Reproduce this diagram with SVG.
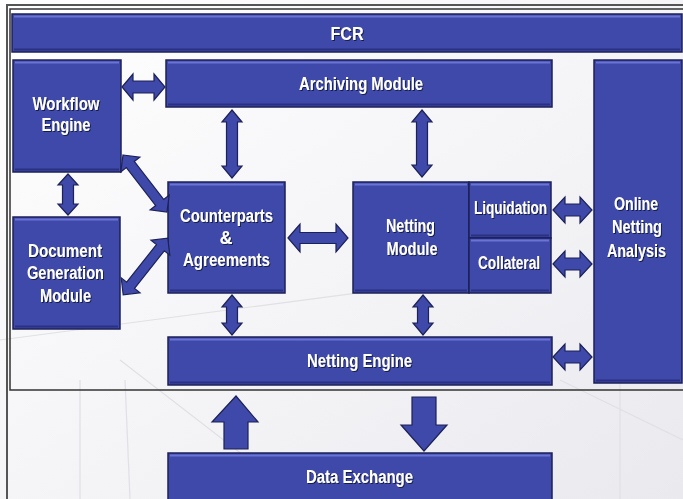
<svg xmlns="http://www.w3.org/2000/svg" width="683" height="499" viewBox="0 0 683 499">
<defs>
<linearGradient id="bg" x1="0" y1="0" x2="1" y2="1">
<stop offset="0" stop-color="#ffffff"/>
<stop offset="0.6" stop-color="#f3f3f6"/>
<stop offset="1" stop-color="#e9e9ee"/>
</linearGradient>
<filter id="sh" x="-10%" y="-20%" width="120%" height="140%">
<feDropShadow dx="1" dy="1" stdDeviation="0.6" flood-color="#10143a" flood-opacity="0.9"/>
</filter>
<style>
.box{fill:#3f49a9;stroke:#1c2157;stroke-width:1.5}
.hl{fill:none;stroke:#6b74d6;stroke-width:2}
.dk{fill:none;stroke:#2a3183;stroke-width:2}
.arr{fill:#3f49a9;stroke:#1c2157;stroke-width:1.2;stroke-linejoin:miter}
.t{font-family:"Liberation Sans Narrow","Liberation Sans",Arial,sans-serif;font-weight:bold;font-size:18px;fill:#ffffff;text-anchor:middle;filter:url(#sh)}
.bgl{stroke:#e0e0e5;stroke-width:1.2;fill:none}
</style>
</defs>
<rect x="0" y="0" width="683" height="499" fill="url(#bg)"/>
<g id="background-lines">
<path class="bgl" d="M0 340 L683 250"/>
<path class="bgl" d="M80 380 L80 499"/>
<path class="bgl" d="M125 380 L130 499"/>
<path class="bgl" d="M120 360 L300 499"/>
<path class="bgl" d="M560 380 L683 440"/>
<path class="bgl" d="M620 380 L620 499"/>
</g>
<g id="frame">
<path d="M7 499 L7 5 L683 5" fill="none" stroke="#555" stroke-width="2"/>
<path d="M683 9 L10 9 L10 390 L683 390" fill="none" stroke="#333" stroke-width="1.5"/>
</g>

<g id="fcr">
<rect class="box" x="12" y="14" width="670" height="38"/>
<path class="hl" d="M14 16.5 L680 16.5"/>
<path class="dk" d="M14 49.5 L680 49.5"/>
<text class="t" x="347" y="40" font-size="20" textLength="33" lengthAdjust="spacingAndGlyphs">FCR</text>
</g>

<g id="workflow-engine">
<rect class="box" x="13" y="60" width="108" height="112"/>
<path class="hl" d="M15 62.5 L119 62.5"/>
<path class="dk" d="M15 169.5 L119 169.5"/>
<text class="t" x="66" y="110" textLength="67" lengthAdjust="spacingAndGlyphs">Workflow</text>
<text class="t" x="66" y="131" textLength="49" lengthAdjust="spacingAndGlyphs">Engine</text>
</g>

<g id="archiving-module">
<rect class="box" x="166" y="60" width="386" height="47"/>
<path class="hl" d="M168 62.5 L550 62.5"/>
<path class="dk" d="M168 104.5 L550 104.5"/>
<text class="t" x="361" y="90" textLength="124" lengthAdjust="spacingAndGlyphs">Archiving Module</text>
</g>

<g id="online-netting-analysis">
<rect class="box" x="594" y="60" width="88" height="323"/>
<path class="hl" d="M596 62.5 L680 62.5"/>
<path class="dk" d="M596 380.5 L680 380.5"/>
<text class="t" x="636" y="210" textLength="44" lengthAdjust="spacingAndGlyphs">Online</text>
<text class="t" x="637" y="233" textLength="50" lengthAdjust="spacingAndGlyphs">Netting</text>
<text class="t" x="636.5" y="257" textLength="59" lengthAdjust="spacingAndGlyphs">Analysis</text>
</g>

<g id="document-generation-module">
<rect class="box" x="13" y="217" width="107" height="112"/>
<path class="hl" d="M15 219.5 L118 219.5"/>
<path class="dk" d="M15 326.5 L118 326.5"/>
<text class="t" x="65" y="257" textLength="74" lengthAdjust="spacingAndGlyphs">Document</text>
<text class="t" x="65.5" y="279" textLength="77" lengthAdjust="spacingAndGlyphs">Generation</text>
<text class="t" x="65.5" y="302" textLength="51" lengthAdjust="spacingAndGlyphs">Module</text>
</g>

<g id="counterparts-agreements">
<rect class="box" x="168" y="182" width="117" height="111"/>
<path class="hl" d="M170 184.5 L283 184.5"/>
<path class="dk" d="M170 290.5 L283 290.5"/>
<text class="t" x="226.5" y="222" textLength="93" lengthAdjust="spacingAndGlyphs">Counterparts</text>
<text class="t" x="226" y="244">&amp;</text>
<text class="t" x="226.5" y="266" textLength="87" lengthAdjust="spacingAndGlyphs">Agreements</text>
</g>

<g id="netting-module">
<rect class="box" x="353" y="182" width="116" height="111"/>
<path class="hl" d="M355 184.5 L467 184.5"/>
<path class="dk" d="M355 290.5 L467 290.5"/>
<text class="t" x="410.5" y="232" textLength="49" lengthAdjust="spacingAndGlyphs">Netting</text>
<text class="t" x="412" y="255" textLength="51" lengthAdjust="spacingAndGlyphs">Module</text>
</g>

<g id="liquidation">
<rect class="box" x="469" y="182" width="82" height="56"/>
<path class="hl" d="M471 184.5 L549 184.5"/>
<path class="dk" d="M471 235.5 L549 235.5"/>
<text class="t" x="510.5" y="214" textLength="73" lengthAdjust="spacingAndGlyphs">Liquidation</text>
</g>

<g id="collateral">
<rect class="box" x="469" y="238" width="82" height="55"/>
<path class="hl" d="M471 240.5 L549 240.5"/>
<path class="dk" d="M471 290.5 L549 290.5"/>
<text class="t" x="509" y="269" textLength="62" lengthAdjust="spacingAndGlyphs">Collateral</text>
</g>

<g id="netting-engine">
<rect class="box" x="168" y="337" width="384" height="48"/>
<path class="hl" d="M170 339.5 L550 339.5"/>
<path class="dk" d="M170 382.5 L550 382.5"/>
<text class="t" x="359.5" y="367" textLength="105" lengthAdjust="spacingAndGlyphs">Netting Engine</text>
</g>

<g id="data-exchange">
<rect class="box" x="168" y="453" width="384" height="52"/>
<path class="hl" d="M170 455.5 L550 455.5"/>
<text class="t" x="359.5" y="483" textLength="107" lengthAdjust="spacingAndGlyphs">Data Exchange</text>
</g>

<g id="connectors">
<path class="arr" d="M122 87 L133 74 L133 81 L154 81 L154 74 L165 87 L154 100 L154 93 L133 93 L133 100 Z"/>
<path class="arr" d="M288 238 L300 224 L300 232.5 L336 232.5 L336 224 L348 238 L336 252 L336 243.5 L300 243.5 L300 252 Z"/>
<path class="arr" d="M553 210 L565 197 L565 204 L580 204 L580 197 L592 210 L580 223 L580 216 L565 216 L565 223 Z"/>
<path class="arr" d="M553 264 L565 251 L565 258 L580 258 L580 251 L592 264 L580 277 L580 270 L565 270 L565 277 Z"/>
<path class="arr" d="M553 357 L565 344 L565 351 L580 351 L580 344 L592 357 L580 370 L580 363 L565 363 L565 370 Z"/>
<path class="arr" d="M68 174 L78 185 L73.5 185 L73.5 204 L78 204 L68 215 L58 204 L62.5 204 L62.5 185 L58 185 Z"/>
<path class="arr" d="M232 110 L242 122 L237.5 122 L237.5 166 L242 166 L232 178 L222 166 L226.5 166 L226.5 122 L222 122 Z"/>
<path class="arr" d="M422 110 L432 122 L427.5 122 L427.5 165 L432 165 L422 177 L412 165 L416.5 165 L416.5 122 L412 122 Z"/>
<path class="arr" d="M232 295 L242 307 L237.5 307 L237.5 323 L242 323 L232 335 L222 323 L226.5 323 L226.5 307 L222 307 Z"/>
<path class="arr" d="M423 295 L433 307 L428.5 307 L428.5 323 L433 323 L423 335 L413 323 L417.5 323 L417.5 307 L413 307 Z"/>
<path class="arr" transform="translate(145 183.5) rotate(52.3)" d="M-36 0 L-24 -12 L-24 -5 L24 -5 L24 -12 L36 0 L24 12 L24 5 L-24 5 L-24 12 Z"/>
<path class="arr" transform="translate(145.5 266.5) rotate(-51.7)" d="M-36 0 L-24 -12 L-24 -5 L24 -5 L24 -12 L36 0 L24 12 L24 5 L-24 5 L-24 12 Z"/>
<path class="arr" d="M236 396 L258 422 L248 422 L248 449 L224 449 L224 422 L212 422 Z"/>
<path class="arr" d="M412 397 L436 397 L436 425 L447 425 L424 451 L401 425 L412 425 Z"/>
</g>
</svg>
